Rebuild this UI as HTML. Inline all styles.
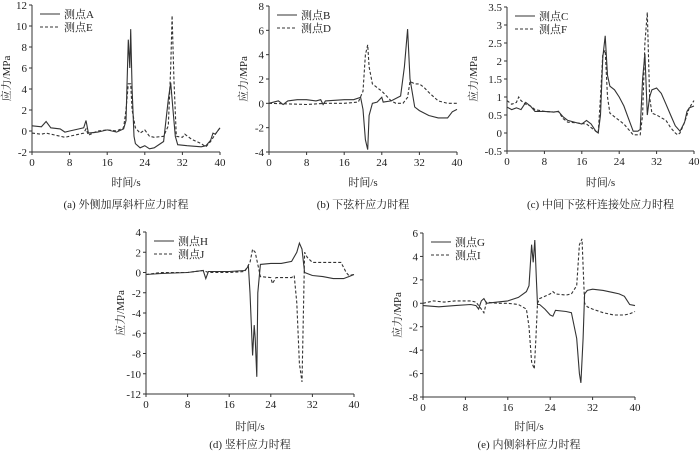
<!DOCTYPE html>
<html><head><meta charset="utf-8">
<style>
html,body{margin:0;padding:0;background:#fff;}
svg{display:block;font-family:"Liberation Serif","Noto Serif CJK SC",serif;}
text{fill:#222;}
</style></head>
<body>
<svg id="fig" width="700" height="452" viewBox="0 0 700 452" xmlns="http://www.w3.org/2000/svg"></svg>
<script>
// ---- data: [time s, stress MPa] ----
const seriesA=[[0,0.5],[2,0.4],[3,0.9],[4,0.3],[6,0.2],[7,-0.1],[8,0],[10,0.2],[11,0.3],[11.5,1.0],[12,-0.2],[14,-0.1],[16,0.1],[18,-0.1],[19.5,0.2],[20,1],[20.5,8.7],[20.8,6],[21,9.7],[21.3,4],[21.7,-0.5],[22,-1.2],[23,-1.6],[24,-1.4],[25,-1.7],[26,-1.6],[28,-1],[29,3],[29.5,4.6],[30,2],[30.5,-0.5],[31,-1.3],[33,-1.4],[36,-1.5],[37,-1.4],[38,-0.9],[38.5,-0.2],[39,-0.3],[40,0.3]];
const seriesE=[[0,-0.2],[2,-0.3],[3,-0.2],[5,-0.4],[7,-0.6],[9,-0.4],[10,-0.3],[11,-0.2],[11.5,0.2],[12,-0.4],[14,0],[16,0.1],[18,0],[19.5,0.3],[20,2],[20.5,4.5],[21,4.5],[21.3,2],[22,0.3],[23,-0.2],[24,0.1],[25,-0.5],[26,-0.6],[28,-0.5],[29,0.5],[29.5,6],[29.8,11],[30.2,5],[30.7,-0.5],[32,-0.6],[32.5,-0.3],[34,-0.8],[36,-1.2],[37,-1.5],[38,-1.0],[39,-0.3],[40,0.3]];
const seriesB=[[0,0],[2,0.2],[3,-0.1],[4,0.2],[6,0.3],[8,0.3],[10,0.2],[11,0.3],[11.5,-0.1],[12,0.2],[16,0.3],[18,0.3],[19.5,0.5],[20,-0.5],[20.5,-3],[21,-3.8],[21.3,-1],[22,0],[23,0.1],[24,0.5],[24.3,0.1],[26,0.2],[28,0.6],[28.8,3],[29.5,6.1],[30,2],[31,-0.3],[32,-0.6],[34,-1.0],[36,-1.2],[38,-1.2],[39,-0.7],[40,-0.5]];
const seriesD=[[0,0],[8,-0.1],[12,0],[16,0],[19,0.1],[20,1],[20.5,4],[21,4.8],[21.3,3],[22,1.6],[24,1],[25,0.6],[26,0.2],[27,0],[28.5,0],[29.5,0.5],[30,1.8],[31,1.6],[32,1.6],[33,1.3],[34,0.9],[36,0.2],[38,0],[40,0]];
const seriesC=[[0,0.72],[1,0.65],[2,0.7],[3,0.65],[4,0.85],[5,0.75],[6,0.6],[8,0.6],[10,0.58],[11,0.6],[12,0.45],[13,0.35],[15,0.28],[16,0.25],[17,0.35],[18,0.25],[19,0.05],[19.5,0],[20,0.5],[20.5,2.1],[21,2.7],[21.5,1.6],[22,1.3],[23,1.2],[24,1.0],[25,0.75],[26,0.4],[27,0.05],[28,0.05],[28.5,0.1],[29,1.5],[29.5,2.2],[30,0.5],[30.5,1.0],[31,1.2],[32,1.25],[33,1.1],[34,0.8],[35,0.5],[36,0.2],[37,0.05],[38,0.3],[38.5,0.6],[39,0.7],[40,0.75]];
const seriesF=[[0,0.9],[1,0.8],[2,0.85],[2.5,1.0],[3,0.9],[4,0.8],[5,0.75],[6,0.65],[8,0.6],[10,0.58],[11,0.6],[12,0.4],[13,0.3],[15,0.28],[17,0.25],[18,0.15],[19,0.05],[19.5,0],[20,1.0],[20.5,2.2],[21,2.3],[21.5,1.0],[22,0.55],[23,0.45],[24,0.35],[25,0.25],[26,0.1],[27,-0.05],[28.5,-0.05],[29,0.5],[29.5,2.5],[30,3.35],[30.5,1.0],[31,0.55],[32,0.5],[34,0.35],[35,0.15],[36,0],[36.5,-0.05],[37,0],[38,0.3],[39,0.7],[40,0.9]];
const seriesH=[[0,-0.2],[3,-0.1],[8,0],[11,0.2],[11.5,-0.6],[12,0.1],[16,0.1],[19,0.2],[19.7,0.6],[20,-2],[20.5,-8.2],[20.8,-5.2],[21,-6.5],[21.3,-10.3],[21.5,-2],[22,0.8],[24,0.9],[26,0.9],[28,1.1],[29,2],[29.5,2.9],[30,2.3],[30.5,0],[32,-0.3],[34,-0.4],[36,-0.6],[38,-0.6],[39,-0.4],[40,-0.2]];
const seriesJ=[[0,-0.2],[3,0],[8,0],[11,0.2],[12,0],[16,0],[19,0.1],[20,1],[20.5,2.3],[21,2],[21.5,0.8],[22,-0.4],[24,-0.5],[24.3,-1.1],[25,-0.5],[28,-0.5],[28.5,-0.3],[29,-3],[29.5,-9],[30,-10.8],[30.3,-3],[30.5,2],[31,1.5],[32,1],[34,1],[36,1],[37.5,1],[38.5,0],[39,-0.3],[40,-0.2]];
const seriesG=[[0,-0.2],[3,-0.3],[6,-0.2],[9,-0.1],[10,-0.2],[10.5,-0.5],[11,0.2],[11.5,0.4],[12,0],[14,0.1],[16,0.2],[18,0.5],[19.5,1.0],[20,1.5],[20.5,5],[20.8,3.5],[21.1,5.4],[21.4,2],[21.6,-0.1],[22,-0.1],[23,-0.5],[24,-1],[24.5,-1.1],[25,-0.6],[27,-0.7],[28,-0.8],[29,-3],[29.5,-6],[29.8,-6.8],[30.2,-3],[30.5,0.8],[31,1.1],[32,1.2],[34,1.1],[36,0.9],[37,0.8],[38,0.6],[39,-0.1],[40,-0.2]];
const seriesI=[[0,0],[2,0.2],[4,0.1],[6,0.2],[9,0.2],[10,0.1],[11,-0.5],[11.5,-0.8],[12,0.1],[14,0],[16,0],[18,-0.1],[19.5,-0.5],[20,-2],[20.5,-5],[21,-5.6],[21.3,-3],[21.6,0],[22,0.4],[23,0.6],[24,0.8],[24.5,1],[25,0.8],[27,0.7],[28,0.8],[29,1.5],[29.5,5],[30,5.5],[30.5,0],[31,-0.3],[32,-0.5],[34,-0.8],[36,-1],[38,-1],[39,-0.9],[40,-0.7]];
const xTicks=[0,8,16,24,32,40];
const yTicksA=[-2,0,2,4,6,8,10,12];
const yTicksB=[-4,-2,0,2,4,6,8];
const yTicksC=[-0.5,0,0.5,1,1.5,2,2.5,3,3.5];
const yTicksD=[-12,-10,-8,-6,-4,-2,0,2,4];
const yTicksE=[-8,-6,-4,-2,0,2,4,6];

const NS="http://www.w3.org/2000/svg";
const svg=document.getElementById('fig');
function mk(tag,attrs,parent,txt){const e=document.createElementNS(NS,tag);for(const k in attrs)e.setAttribute(k,attrs[k]);if(txt!==undefined)e.textContent=txt;(parent||svg).appendChild(e);return e;}

function panel(id,box,yTicks,s1,s2,n1,n2,caption,capY,xtY){
  const g=mk('g',{});
  
  
  const ymin=yTicks[0],ymax=yTicks[yTicks.length-1];
  const X=t=>box.x0+(t-0)/40*(box.x1-box.x0);
  const Y=v=>box.y1-(v-ymin)/(ymax-ymin)*(box.y1-box.y0);
  const ax=mk('path',{d:`M${box.x0},${box.y0}V${box.y1}H${box.x1}`,stroke:'#333','stroke-width':1,fill:'none'},g);
  
  
  xTicks.forEach(t=>{
    mk('line',{x1:X(t),x2:X(t),y1:box.y1,y2:box.y1+3,stroke:'#333'},g);
    const tx=mk('text',{x:X(t),y:box.y1+14,'text-anchor':'middle','font-size':11},g,String(t));
    
    
  });
  yTicks.forEach(v=>{
    mk('line',{x1:box.x0-3,x2:box.x0,y1:Y(v),y2:Y(v),stroke:'#333'},g);
    const tx=mk('text',{x:box.x0-5,y:Y(v)+4,'text-anchor':'end','font-size':11},g,String(v));
    
    
  });
  const line=(s,dash,name)=>{
    const p=mk('path',{d:s.map((d,i)=>(i?'L':'M')+X(d[0]).toFixed(1)+','+Y(d[1]).toFixed(1)).join(''),fill:'none',stroke:'#333','stroke-width':1.1,'stroke-dasharray':dash},g);
    
    
  };
  line(s1,'none',n1);line(s2,'3,2',n2);
  const lx=box.x0+8,ly=box.y0+9;
  const l1=mk('g',{},g);
  
  
  mk('line',{x1:lx,x2:lx+20,y1:ly,y2:ly,stroke:'#333','stroke-width':1.1},l1);
  mk('text',{x:lx+24,y:ly+4,'font-size':11},l1,'测点'+n1);
  const l2=mk('g',{},g);
  
  
  mk('line',{x1:lx,x2:lx+20,y1:ly+13,y2:ly+13,stroke:'#333','stroke-width':1.1,'stroke-dasharray':'3,2'},l2);
  mk('text',{x:lx+24,y:ly+17,'font-size':11},l2,'测点'+n2);
  const cy=(box.y0+box.y1)/2, yx=box.x0-(yTicks.some(v=>String(v).length>3)?30:22);
  const yt=mk('text',{x:yx,y:cy,'text-anchor':'middle','font-size':11,transform:`rotate(-90 ${yx} ${cy})`},g,'应力/MPa');
  
  
  const cx=(box.x0+box.x1)/2;
  const xt=mk('text',{x:cx,y:xtY,'text-anchor':'middle','font-size':11},g,'时间/s');
  
  
  const cp=mk('text',{x:cx,y:capY,'text-anchor':'middle','font-size':11},g,caption);
  
  
}
panel('a',{x0:32,x1:220,y0:5,y1:152},yTicksA,seriesA,seriesE,'A','E','(a) 外侧加厚斜杆应力时程',208,186);
panel('b',{x0:269,x1:457,y0:6,y1:152},yTicksB,seriesB,seriesD,'B','D','(b) 下弦杆应力时程',208,186);
panel('c',{x0:507,x1:694,y0:7,y1:151},yTicksC,seriesC,seriesF,'C','F','(c) 中间下弦杆连接处应力时程',208,186);
panel('d',{x0:146,x1:354,y0:232,y1:394},yTicksD,seriesH,seriesJ,'H','J','(d) 竖杆应力时程',448,430);
panel('e',{x0:423,x1:635,y0:233,y1:397},yTicksE,seriesG,seriesI,'G','I','(e) 内侧斜杆应力时程',448,430);
</script>
</body></html>
